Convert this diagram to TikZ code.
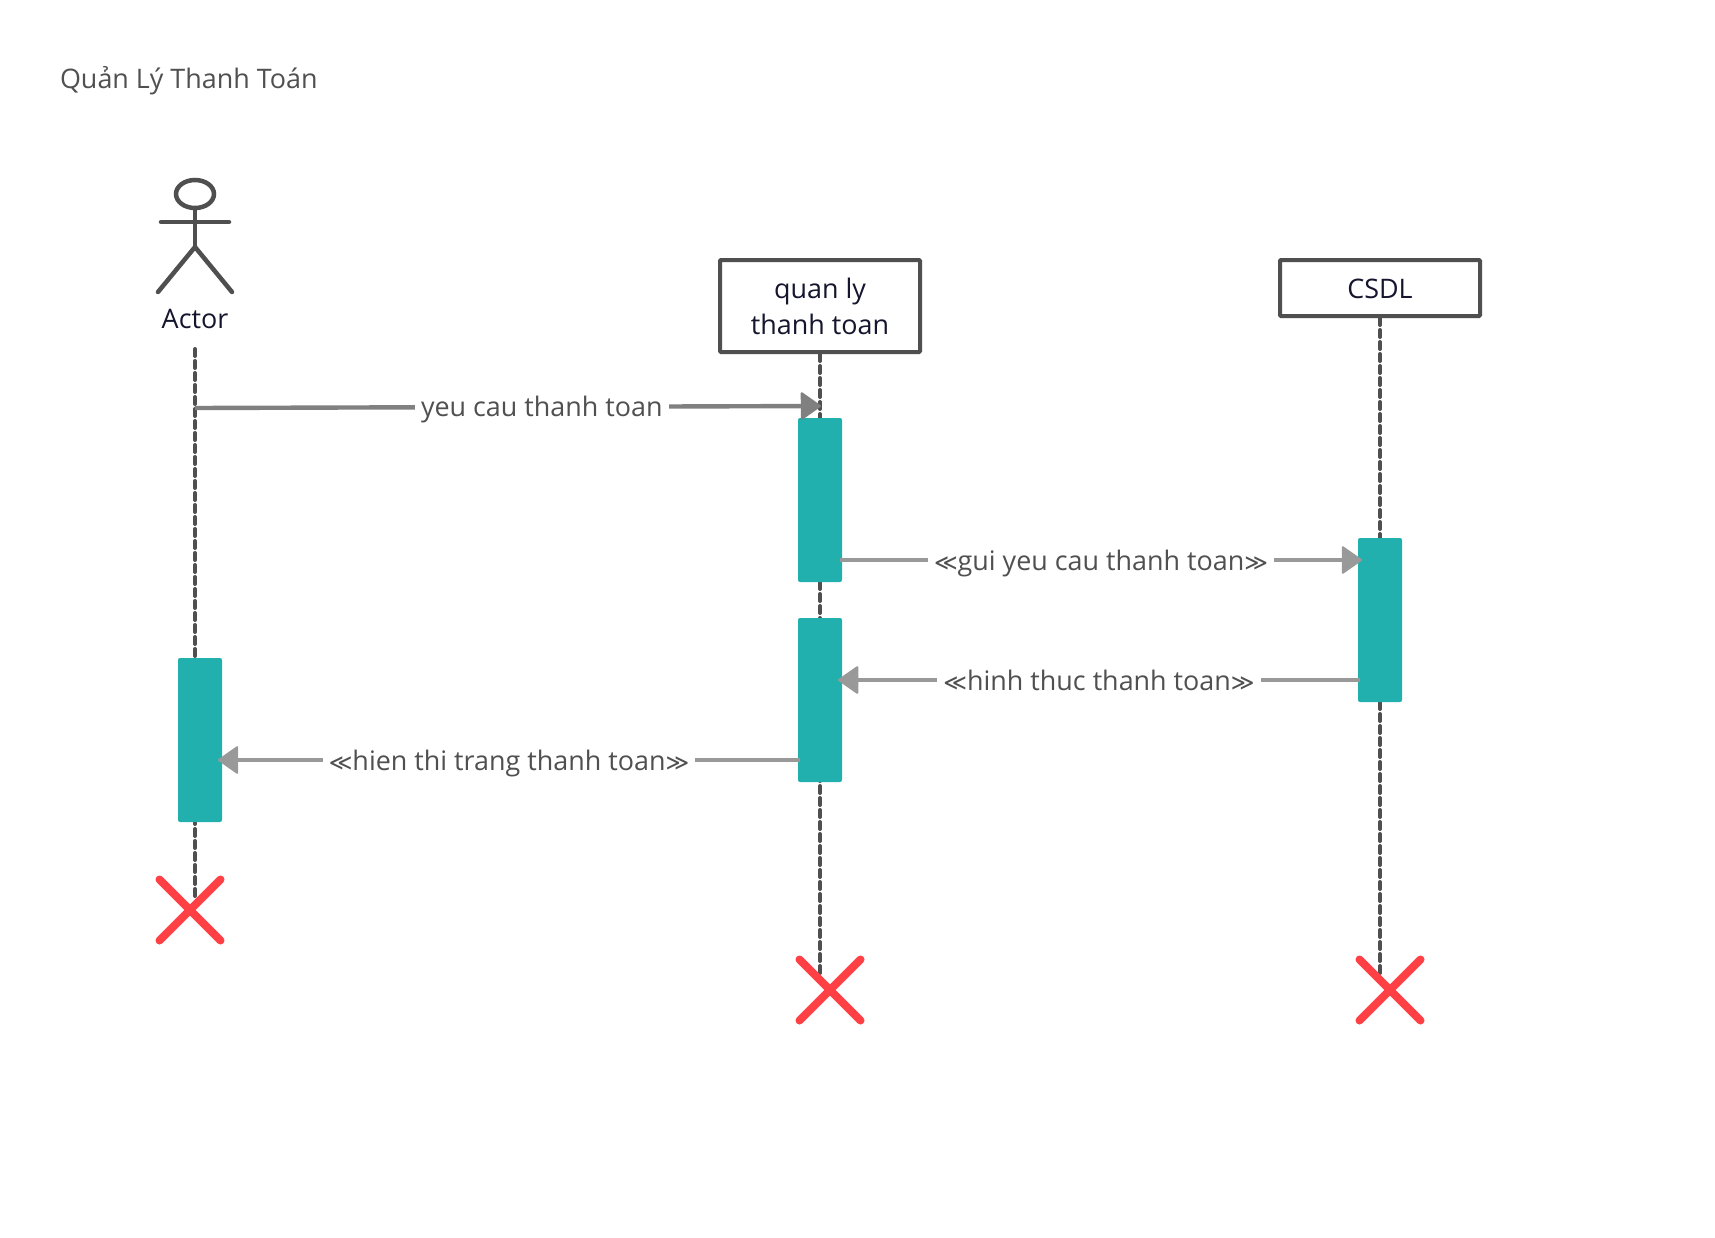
\documentclass[tikz,border=0pt]{standalone}
\usepackage{fontspec}
\setmainfont{Open Sans}
\newfontfamily\symf[Scale=0.84]{DejaVu Sans}
\usetikzlibrary{arrows.meta,shapes.geometric,shapes.misc}
\definecolor{ink}{HTML}{4F4F4F}
\definecolor{navy}{HTML}{15152E}
\definecolor{teal1}{HTML}{22B0AF}
\definecolor{lbl}{HTML}{505050}
\definecolor{xred}{HTML}{FF4045}
\newcommand{\lgq}{{\symf\char"226A}}
\newcommand{\rgq}{{\symf\char"226B}}
\tikzset{
  x=1pt,y=-1pt,
  every node/.style={font=\fontsize{26.9}{36}\selectfont},
  actorline/.style={draw=ink,line width=4.5pt,line cap=round},
  lifeline/.style={draw=ink,line width=4pt,line cap=round,dash pattern=on 7pt off 5pt},
  objbox/.style={draw=ink,line width=4pt,rounded corners=1pt,fill=white,text=navy,align=center,minimum width=200pt,inner sep=0pt},
  activation/.style={fill=teal1,rounded corners=2pt,minimum width=44pt,minimum height=164pt,inner sep=0pt,draw=none},
  msg/.style={line width=4.4pt,-{Triangle[length=21pt,width=29pt,round,line width=2pt]}},
  msgA/.style={msg,draw=black!50,color=black!50},
  msgB/.style={msg,draw=black!40,color=black!40},
  msglabel/.style={fill=white,text=lbl,inner xsep=6pt,inner ysep=1pt,text height=25pt,text depth=5pt},
  destroy/.style={cross out,draw=xred,line width=8pt,line cap=round,minimum size=53pt,inner sep=0pt},
}
\begin{document}
\begin{tikzpicture}
\useasboundingbox[fill=white] (0,0) rectangle (1715,1237);
\node[anchor=west,text=lbl] (title) at (56.5,81) {Quản Lý Thanh Toán};

% actor
\node[ellipse,draw=ink,line width=4.5pt,minimum width=38pt,minimum height=28pt,inner sep=0pt] (head) at (195,194) {};
\coordinate (hip) at (195,247);
\coordinate (armL) at (161,222);
\coordinate (armR) at (229,222);
\coordinate (legL) at (158,292);
\coordinate (legR) at (232,292);
\draw[actorline] (head.south) -- (hip);
\draw[actorline] (armL) -- (armR);
\draw[actorline] (legL) -- (hip) -- (legR);
\node[text=navy] (actor) at (195,319) {Actor};

% objects
\node[objbox,minimum height=92pt] (ql) at (820,306) {quan ly\\thanh toan};
\node[objbox,minimum height=56pt,text height=21pt,text depth=0pt] (db) at (1380,288) {CSDL};

% lifeline ends
\coordinate (atop) at (195,349);
\coordinate (aend) at (195,897);
\coordinate (qend) at (820,975);
\coordinate (dend) at (1380,975);
\draw[lifeline] (atop) -- (aend);
\draw[lifeline] (ql.south) -- (qend);
\draw[lifeline] (db.south) -- (dend);

% activations
\node[activation] (q1) at (820,500) {};
\node[activation] (q2) at (820,700) {};
\node[activation] (d1) at (1380,620) {};
\node[activation] (a1) at (200,740) {};

% destroy marks
\node[destroy] (xa) at (190,910) {};
\node[destroy] (xq) at (830,990) {};
\node[destroy] (xd) at (1390,990) {};

% message end points
\coordinate (m1s) at (195,408);
\coordinate (m1e) at (821,406);
\coordinate (m2s) at (840,560);
\coordinate (m2e) at (1362,560);
\coordinate (m3s) at (1360,680);
\coordinate (m3e) at (838,680);
\coordinate (m4s) at (800,760);
\coordinate (m4e) at (218,760);

\draw[msgA] (m1s) -- node[msglabel,pos=0.554] (l1) {yeu cau thanh toan} (m1e);
\draw[msgB] (m2s) -- node[msglabel,pos=0.5] (l2) {\lgq gui yeu cau thanh toan\rgq} (m2e);
\draw[msgB] (m3s) -- node[msglabel,pos=0.5] (l3) {\lgq hinh thuc thanh toan\rgq} (m3e);
\draw[msgB] (m4s) -- node[msglabel,pos=0.5] (l4) {\lgq hien thi trang thanh toan\rgq} (m4e);
\end{tikzpicture}
\end{document}
